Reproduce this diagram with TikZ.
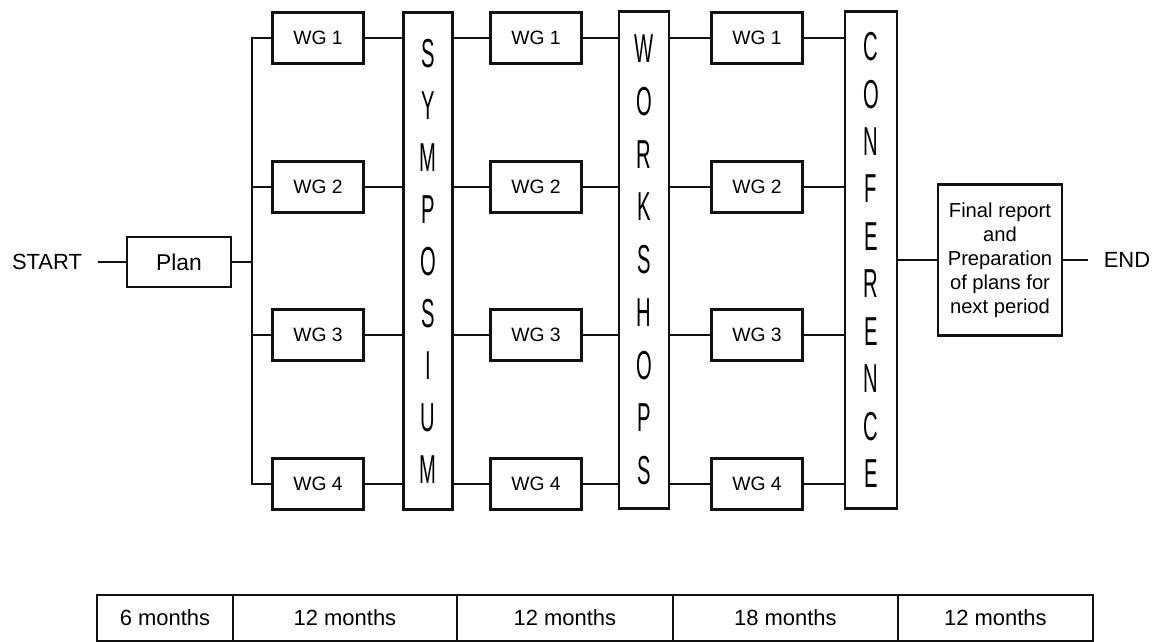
\documentclass[tikz,border=0pt]{standalone}
\usepackage{fontspec}
\setmainfont{Liberation Sans}
\newfontfamily\tallfont[FakeStretch=0.5]{Liberation Sans}
\definecolor{ChartInk}{HTML}{111111}
\usetikzlibrary{positioning}
\tikzset{
  wg/.style={draw=ChartInk, minimum width=1.82cm, minimum height=1.02cm, line width=1.2pt, inner sep=0pt, font=\fontsize{11}{13}\selectfont},
  stage/.style={draw=ChartInk, minimum height=9.94cm, line width=1.2pt, align=center, inner sep=0pt},
  plainbox/.style={draw=ChartInk, line width=1.2pt, align=center, inner sep=0pt},
  cell/.style={draw=ChartInk, minimum height=0.92cm, line width=0.9pt, inner sep=0pt, outer sep=0pt, font=\fontsize{12.5}{14}\selectfont},
  link/.style={line width=1.3pt, ChartInk},
  tag/.style={inner sep=9pt, font=\fontsize{12.5}{14}\selectfont}
}
\begin{document}
\begin{tikzpicture}[x=0.02cm, y=-0.02cm]
    \useasboundingbox (0,0) rectangle (1156,642);

    \node[tag] (start) at (47,262) {START};
    \node[plainbox, minimum width=2.08cm, minimum height=1cm, font=\fontsize{13}{15}\selectfont] (plan) at (179,262) {Plan};
    \coordinate (bus) at (252,262);

    \node[wg] (wgA1) at (318,38) {WG 1};
    \node[wg] (wgA2) at (318,187) {WG 2};
    \node[wg] (wgA3) at (318,335) {WG 3};
    \node[wg] (wgA4) at (318,484) {WG 4};

    \node[stage, minimum width=0.98cm, font=\tallfont\fontsize{23}{29.6}\selectfont] (sym) at (428,261) {S\\Y\\M\\P\\O\\S\\I\\U\\M};

    \node[wg] (wgB1) at (536,38) {WG 1};
    \node[wg] (wgB2) at (536,187) {WG 2};
    \node[wg] (wgB3) at (536,335) {WG 3};
    \node[wg] (wgB4) at (536,484) {WG 4};

    \node[stage, minimum width=1cm, font=\tallfont\fontsize{23}{30}\selectfont] (ws) at (644,260) {W\\O\\R\\K\\S\\H\\O\\P\\S};

    \node[wg] (wgC1) at (757,38) {WG 1};
    \node[wg] (wgC2) at (757,187) {WG 2};
    \node[wg] (wgC3) at (757,335) {WG 3};
    \node[wg] (wgC4) at (757,484) {WG 4};

    \node[stage, minimum width=1.04cm, font=\tallfont\fontsize{23}{27}\selectfont] (conf) at (871,260) {C\\O\\N\\F\\E\\R\\E\\N\\C\\E};

    \node[plainbox, minimum width=2.48cm, minimum height=3.02cm, font=\fontsize{11.5}{13.6}\selectfont] (final) at (1000,260) {Final report\\and\\Preparation\\of plans for\\next period};
    \node[tag] (end) at (1127,260) {END};

    % timeline
    \node[cell, minimum width=2.72cm] (t1) at (165,618) {6 months};
    \node[cell, minimum width=4.48cm, right=0pt of t1] (t2) {12 months};
    \node[cell, minimum width=4.32cm, right=0pt of t2] (t3) {12 months};
    \node[cell, minimum width=4.5cm, right=0pt of t3] (t4) {18 months};
    \node[cell, minimum width=3.9cm, right=0pt of t4] (t5) {12 months};

    \draw[link] (start) -- (plan);
    \draw[link] (plan) -- (bus);
    \draw[link] (wgA1.west) -| (bus);
    \draw[link] (wgA4.west) -| (bus);
    \draw[link] (wgA2.west) -- (wgA2.west -| bus);
    \draw[link] (wgA3.west) -- (wgA3.west -| bus);

    \draw[link] (wgA1.east) -- (wgA1.east -| sym.west);
    \draw[link] (wgA2.east) -- (wgA2.east -| sym.west);
    \draw[link] (wgA3.east) -- (wgA3.east -| sym.west);
    \draw[link] (wgA4.east) -- (wgA4.east -| sym.west);

    \draw[link] (sym.east |- wgB1) -- (wgB1.west);
    \draw[link] (sym.east |- wgB2) -- (wgB2.west);
    \draw[link] (sym.east |- wgB3) -- (wgB3.west);
    \draw[link] (sym.east |- wgB4) -- (wgB4.west);

    \draw[link] (wgB1.east) -- (wgB1.east -| ws.west);
    \draw[link] (wgB2.east) -- (wgB2.east -| ws.west);
    \draw[link] (wgB3.east) -- (wgB3.east -| ws.west);
    \draw[link] (wgB4.east) -- (wgB4.east -| ws.west);

    \draw[link] (ws.east |- wgC1) -- (wgC1.west);
    \draw[link] (ws.east |- wgC2) -- (wgC2.west);
    \draw[link] (ws.east |- wgC3) -- (wgC3.west);
    \draw[link] (ws.east |- wgC4) -- (wgC4.west);

    \draw[link] (wgC1.east) -- (wgC1.east -| conf.west);
    \draw[link] (wgC2.east) -- (wgC2.east -| conf.west);
    \draw[link] (wgC3.east) -- (wgC3.east -| conf.west);
    \draw[link] (wgC4.east) -- (wgC4.east -| conf.west);

    \draw[link] (conf.east |- final) -- (final.west);
    \draw[link] (final) -- (end);
\end{tikzpicture}
\end{document}
